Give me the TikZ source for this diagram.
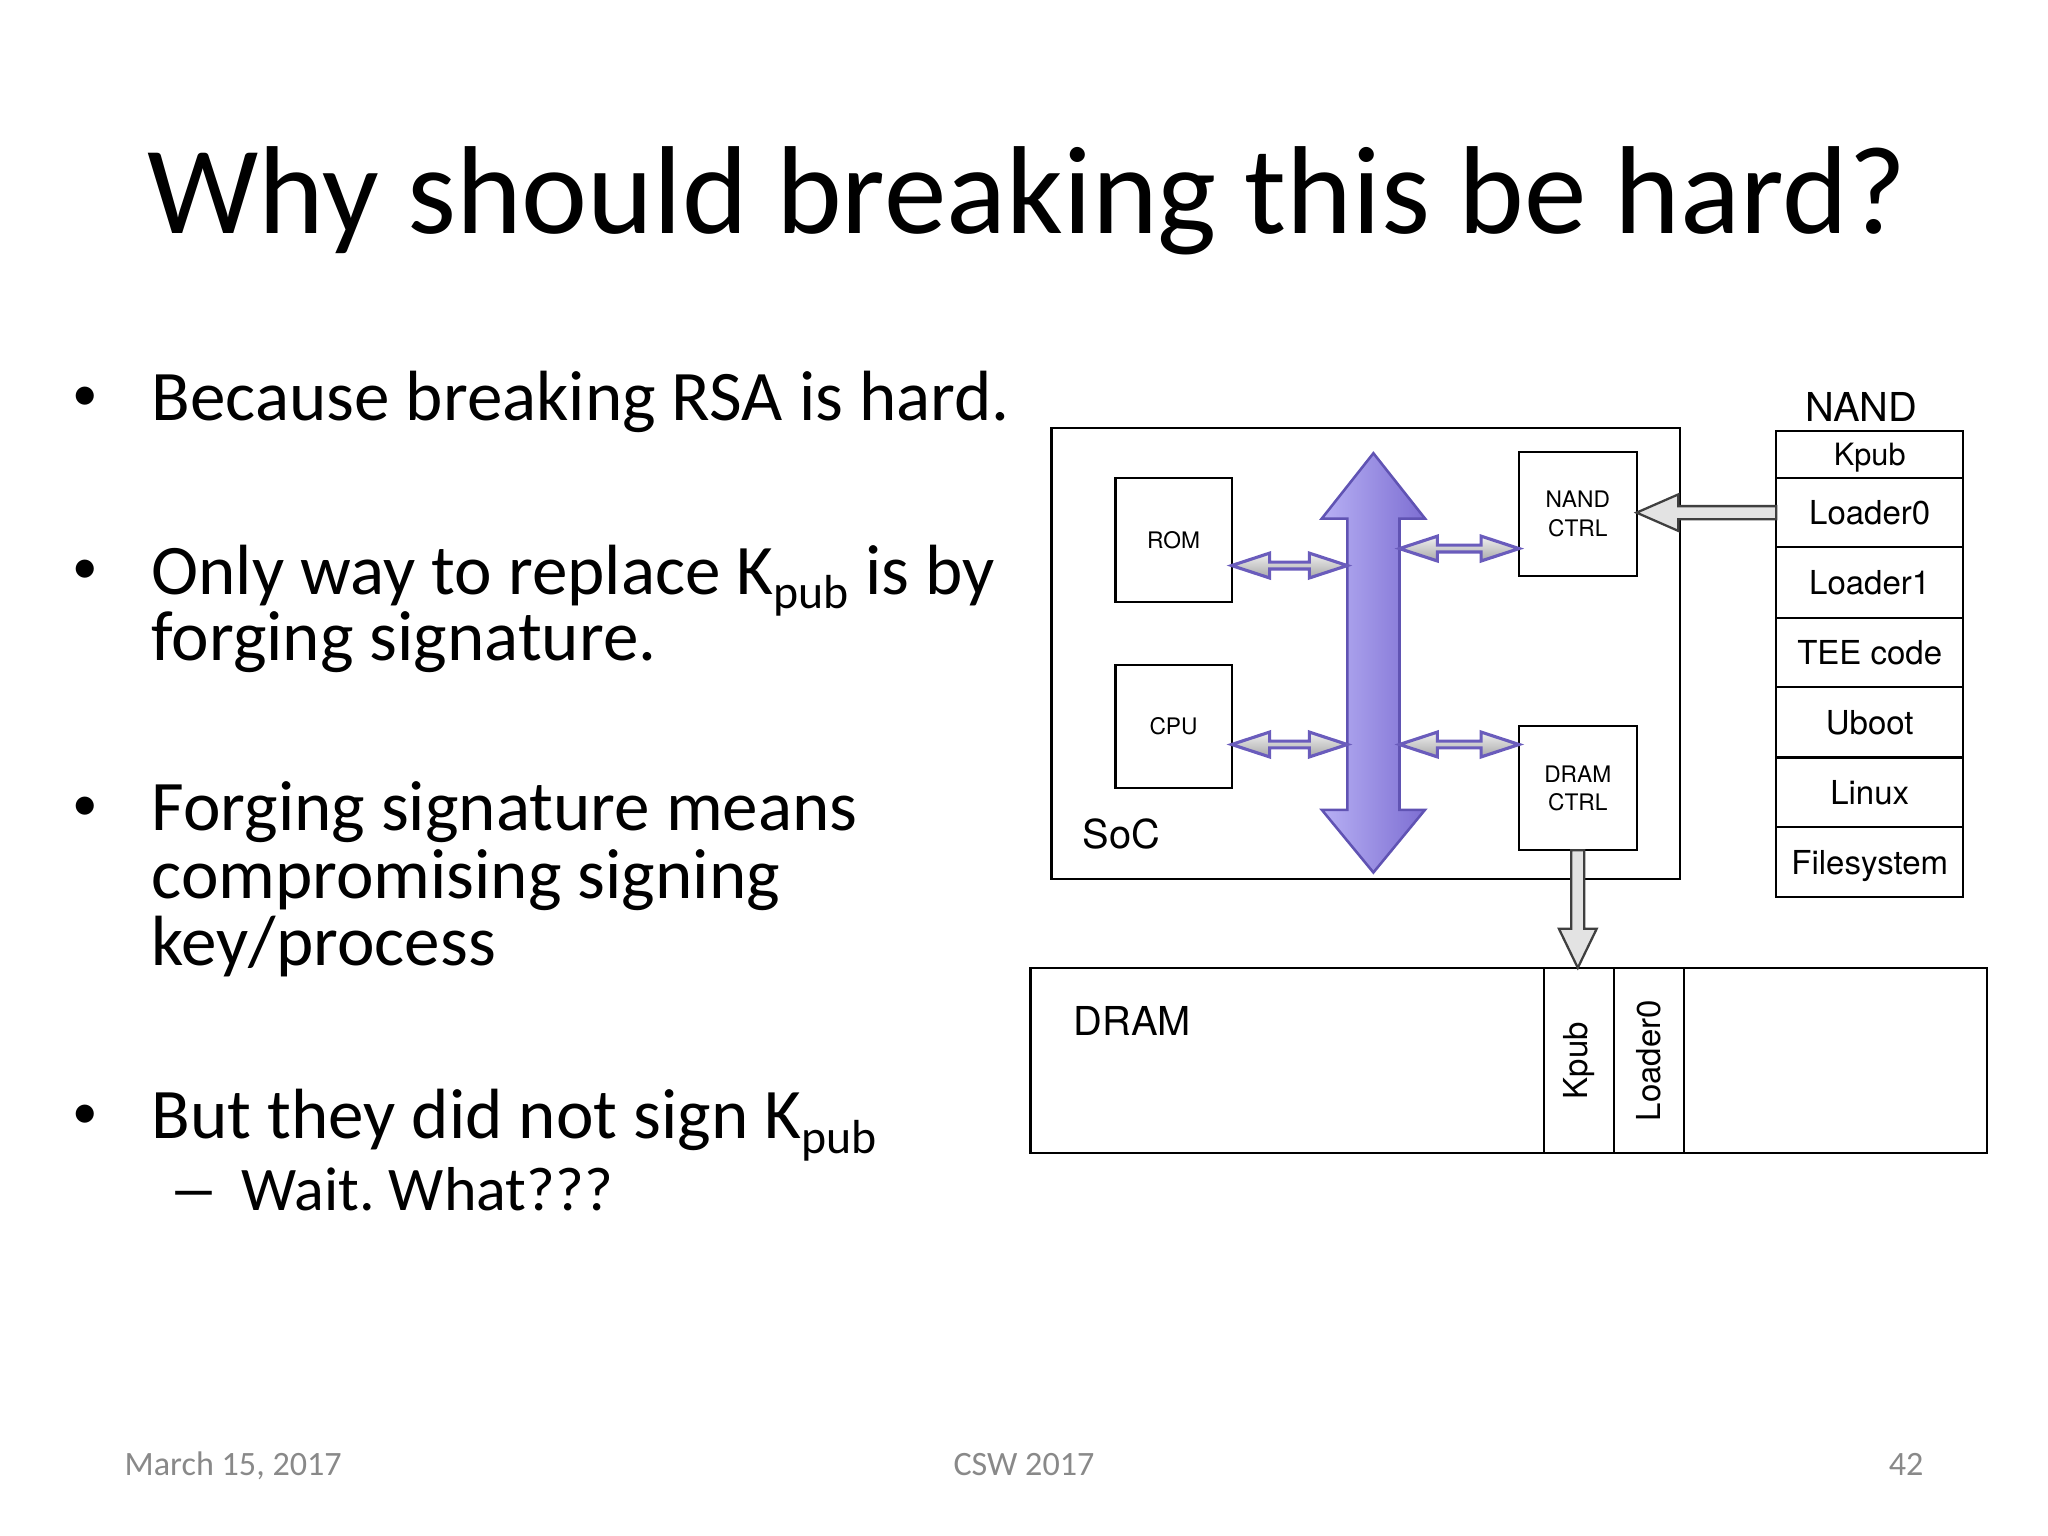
\documentclass[tikz,border=0pt]{standalone}
\usepackage{fontspec}
\usepackage{graphicx}
\setmainfont{Carlito}
\newfontfamily\hv{TeX Gyre Heros}
\usetikzlibrary{calc}
\frenchspacing
\newlength\pxu
\setlength\pxu{0.459184pt}
\definecolor{busA}{HTML}{B7B0F4}
\definecolor{busB}{HTML}{7D6ED2}
\definecolor{busE}{HTML}{6053B3}
\definecolor{smallE}{HTML}{6A5CBC}
\definecolor{footgray}{HTML}{898989}
\definecolor{grayfill}{HTML}{E3E3E3}
\definecolor{grayedge}{HTML}{3F3F3F}
\newcommand\subpub{\raisebox{-5pt}{\fontsize{16.8}{18}\selectfont pub}}
\newcommand\dblarrow[2]{%
  \shadedraw[smallarr] (#1) -- ($(#1)+(29,-9.5)$) -- ($(#1)+(29,-2.6)$)
    -- ($(#2)+(-29,-2.6)$) -- ($(#2)+(-29,-9.5)$) -- (#2)
    -- ($(#2)+(-29,9.5)$) -- ($(#2)+(-29,2.6)$)
    -- ($(#1)+(29,2.6)$) -- ($(#1)+(29,9.5)$) -- cycle;}
\begin{document}
\begin{tikzpicture}[x=0.459184pt,y=-0.459184pt,
  box/.style={draw=black, line width=0.75pt, inner sep=0pt, outer sep=0pt,
    font=\hv\fontsize{8}{10}\selectfont, align=center},
  row/.style={box, minimum width=143\pxu, text depth=0pt, font=\hv\fontsize{11.6}{14}\selectfont},
  cell/.style={box, rotate=90, minimum width=142\pxu, font=\hv\fontsize{11.6}{14}\selectfont},
  lbl/.style={anchor=base west, inner sep=0pt, outer sep=0pt},
  body/.style={lbl, font=\fontsize{25}{29}\selectfont},
  bul/.style={anchor=base, inner sep=0pt, outer sep=0pt, font=\fontsize{18}{20}\selectfont},
  subbody/.style={lbl, font=\fontsize{21.8}{26}\selectfont},
  foot/.style={inner sep=0pt, anchor=base, text=footgray, font=\fontsize{12}{14}\selectfont},
  smallarr/.style={draw=smallE, line width=1.1pt, line join=miter, top color=white!94!black, bottom color=black!34},
  grayarr/.style={draw=grayedge, fill=grayfill, line width=0.8pt, line join=miter}
]
\useasboundingbox (0,0) rectangle (1568,1176);

% title
\node[lbl, font=\fontsize{44}{50}\selectfont] (title) at (113,179) {Why should breaking this be hard?};

% bullets
\node[bul] (b1) at (65.5,314) {•};
\node[body] (t1) at (116,322) {Because breaking RSA is hard.};
\node[bul] (b2) at (65.5,447) {•};
\node[body] (t2) at (116,455) {Only way to replace K\subpub{} is by};
\node[body] (t2b) at (116,506) {forging signature.};
\node[bul] (b3) at (65.5,628) {•};
\node[body] (t3) at (116,636) {Forging signature means};
\node[body] (t3b) at (116,688) {compromising signing};
\node[body] (t3c) at (116,739) {key/process};
\node[bul] (b4) at (65.5,864) {•};
\node[body] (t4) at (116,872) {But they did not sign K\subpub};
\node[subbody] (d5) at (129,927) {\scalebox{1.65}[1]{–}};
\node[subbody] (t5) at (185,927) {Wait. What???};

% footer
\node[foot, anchor=base west] (f1) at (95,1130) {March 15, 2017};
\node[foot] (f2) at (784,1130) {CSW 2017};
\node[foot, anchor=base east] (f3) at (1473,1130) {42};

% SoC
\node[box, minimum width=481\pxu, minimum height=345\pxu] (soc) at (1045.5,500.5) {};
\node[lbl, font=\hv\fontsize{14}{16}\selectfont] (soclbl) at (829,650) {SoC};
\node[box, minimum width=89\pxu, minimum height=95\pxu] (rom) at (898.5,413.5) {ROM};
\node[box, minimum width=89\pxu, minimum height=94\pxu] (cpu) at (898.5,556) {CPU};
\node[box, minimum width=90\pxu, minimum height=95\pxu] (nandctrl) at (1208,393.5) {NAND\\CTRL};
\node[box, minimum width=90\pxu, minimum height=95\pxu] (dramctrl) at (1208,603.5) {DRAM\\CTRL};

% bus
\coordinate (busT) at (1051.5,347);
\coordinate (busBt) at (1051.5,668);
\shadedraw[left color=busA, right color=busB, draw=busE, line width=0.9pt, line join=miter]
  (busT) -- ++(39.5,50) -- ++(-19.5,0) -- ($(busBt)+(20,-48)$) -- ++(19.5,0) -- (busBt)
  -- ++(-39.5,-48) -- ++(19.5,0) -- ($(busT)+(-20,50)$) -- ++(-19.5,0) -- cycle;
\coordinate (busW1) at (1031.5,433);
\coordinate (busW2) at (1031.5,570);
\coordinate (busE1) at (1071.5,420);
\coordinate (busE2) at (1071.5,570);
\coordinate (romA) at (rom.east |- busW1);
\coordinate (cpuA) at (cpu.east |- busW2);
\coordinate (nandA) at (nandctrl.west |- busE1);
\coordinate (dramA) at (dramctrl.west |- busE2);
\dblarrow{romA}{busW1}
\dblarrow{cpuA}{busW2}
\dblarrow{busE1}{nandA}
\dblarrow{busE2}{dramA}

% NAND column
\node[font=\hv\fontsize{14}{16}\selectfont, anchor=base, inner sep=0pt] (nandlbl) at (1425,323) {NAND};
\node[row, minimum height=36\pxu, font=\hv\fontsize{10.8}{13}\selectfont] (kpubN) at (1431.5,348) {Kpub};
\node[row, minimum height=53\pxu] (loader0N) at (1431.5,392.5) {Loader0};
\node[row, minimum height=54\pxu] (loader1N) at (1431.5,446) {Loader1};
\node[row, minimum height=53\pxu] (teeN) at (1431.5,499.5) {TEE code};
\node[row, minimum height=54\pxu] (ubootN) at (1431.5,553) {Uboot};
\node[row, minimum height=53\pxu] (linuxN) at (1431.5,606.5) {Linux};
\node[row, minimum height=54\pxu] (fsN) at (1431.5,660) {Filesystem};

% DRAM
\node[box, minimum width=732\pxu, minimum height=142\pxu] (dram) at (1155,812) {};
\node[lbl, font=\hv\fontsize{14}{16}\selectfont] (dramlbl) at (822,793) {DRAM};
\node[cell, minimum height=54\pxu] (kpubD) at (1209,812) {Kpub};
\node[cell, minimum height=53\pxu] (loaderD) at (1262.5,812) {Loader0};

% gray arrows
\coordinate (nA) at (loader0N.west);
\coordinate (nB) at (nandctrl.east |- nA);
\draw[grayarr] ($(nA)+(0,-5)$) -- ($(nB)+(32,-5)$) -- ($(nB)+(32,-14)$) -- (nB)
  -- ($(nB)+(32,14)$) -- ($(nB)+(32,5)$) -- ($(nA)+(0,5)$) -- cycle;
\coordinate (dA) at (dramctrl.south);
\coordinate (dB) at (dramctrl.south |- dram.north);
\draw[grayarr] ($(dA)+(-5,0)$) -- ($(dB)+(-5,-30)$) -- ($(dB)+(-14.5,-30)$) -- (dB)
  -- ($(dB)+(14.5,-30)$) -- ($(dB)+(5,-30)$) -- ($(dA)+(5,0)$) -- cycle;
\end{tikzpicture}
\end{document}
